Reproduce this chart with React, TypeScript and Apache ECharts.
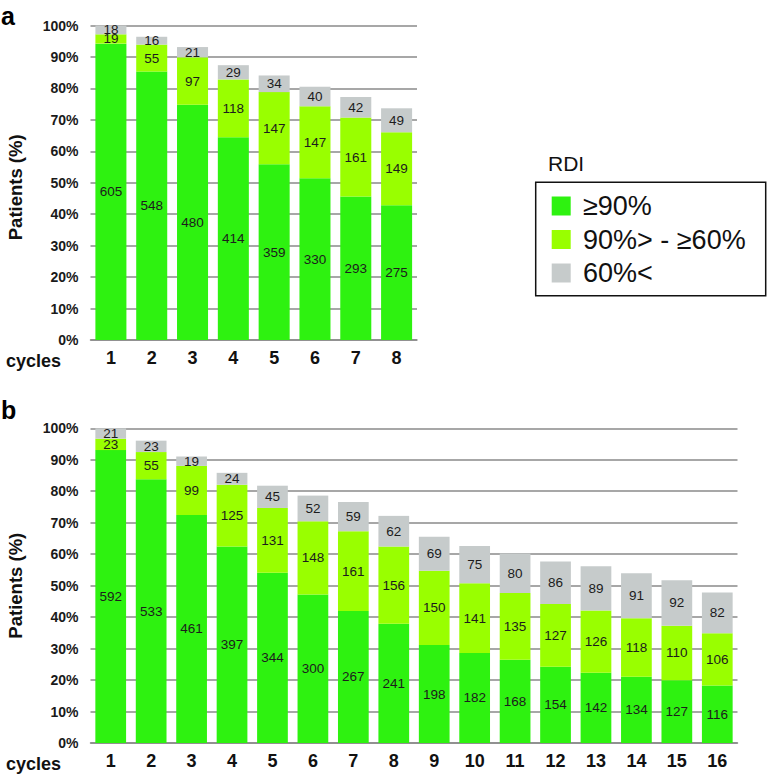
import React, { useEffect, useRef } from "react";
import * as echarts from "echarts";

const cyclesA = ["1", "2", "3", "4", "5", "6", "7", "8"];
const a90 = [605, 548, 480, 414, 359, 330, 293, 275];
const a60 = [19, 55, 97, 118, 147, 147, 161, 149];
const aLow = [18, 16, 21, 29, 34, 40, 42, 49];

const cyclesB = ["1", "2", "3", "4", "5", "6", "7", "8", "9", "10", "11", "12", "13", "14", "15", "16"];
const b90 = [592, 533, 461, 397, 344, 300, 267, 241, 198, 182, 168, 154, 142, 134, 127, 116];
const b60 = [23, 55, 99, 125, 131, 148, 161, 156, 150, 141, 135, 127, 126, 118, 110, 106];
const bLow = [21, 23, 19, 24, 45, 52, 59, 62, 69, 75, 80, 86, 89, 91, 92, 82];

const legendNames = ["≥90%", "90%> - ≥60%", "60%<"];
const colors = ["#2EF210", "#99FF00", "#C6CBCB"];
const panelLetters = ["a", "b"];

const FONT = "'Liberation Sans', Arial, sans-serif";

export default function App() {
  const ref = useRef<HTMLDivElement>(null);
  useEffect(() => {
    if (!ref.current) return;
    const chart = echarts.init(ref.current, undefined, { renderer: "svg" });

    const totalA = a90[0] + a60[0] + aLow[0];
    const totalB = b90[0] + b60[0] + bLow[0];
    const pct = (arr: number[], total: number) =>
      arr.map((v) => ({ value: (v / total) * 100, count: v }));

    const panels = [
      { cats: cyclesA, sets: [a90, a60, aLow], total: totalA },
      { cats: cyclesB, sets: [b90, b60, bLow], total: totalB },
    ];

    const grids = [
      { left: 90.5, top: 25.5, width: 326.5, height: 314.5 },
      { left: 90.5, top: 428.3, width: 647, height: 314.7 },
    ];

    const series: any[] = [];
    panels.forEach((p, gi) => {
      p.sets.forEach((arr, si) => {
        series.push({
          type: "bar",
          name: legendNames[si],
          stack: "s" + gi,
          xAxisIndex: gi,
          yAxisIndex: gi,
          barCategoryGap: "24%",
          data: pct(arr, p.total),
          itemStyle: { color: colors[si] },
          label: {
            show: true,
            position: "inside",
            formatter: (d: any) => String(d.data.count),
            color: "#1c1c1c",
            fontSize: 13.5,
            fontFamily: FONT,
          },
        });
      });
    });

    const xAxis = panels.map((p, gi) => ({
      type: "category",
      gridIndex: gi,
      data: p.cats,
      axisTick: { show: false },
      axisLine: { show: true, lineStyle: { color: "#8a8a8a", width: 1.5 } },
      axisLabel: {
        margin: 9,
        fontSize: 18,
        fontWeight: "bold",
        color: "#111",
        fontFamily: FONT,
      },
    }));

    const yAxis = panels.map((_p, gi) => ({
      type: "value",
      gridIndex: gi,
      min: 0,
      max: 100,
      interval: 10,
      axisLine: { show: false },
      axisTick: { show: false },
      splitLine: { show: true, lineStyle: { color: "#8a8a8a", width: 1.5 } },
      axisLabel: {
        formatter: "{value}%",
        margin: 12,
        fontSize: 14,
        fontWeight: "bold",
        color: "#1a1a1a",
        fontFamily: FONT,
      },
    }));

    const graphic: any[] = [];
    graphic.push({
      type: "text", left: 1, top: 3,
      style: { text: panelLetters[0], font: `bold 25px ${FONT}`, fill: "#000" },
    });
    graphic.push({
      type: "text", left: 1, top: 397,
      style: { text: panelLetters[1], font: `bold 25px ${FONT}`, fill: "#000" },
    });
    const yTitleY = [187.3, 585.7];
    yTitleY.forEach((y) => {
      graphic.push({
        type: "text",
        x: 15.5,
        y,
        rotation: Math.PI / 2,
        style: {
          text: "Patients (%)",
          font: `bold 18.5px ${FONT}`,
          fill: "#111",
          align: "center",
          verticalAlign: "middle",
        },
      });
    });
    const cyclesY = [361, 764];
    cyclesY.forEach((y) => {
      graphic.push({
        type: "text",
        x: 6,
        y,
        style: {
          text: "cycles",
          font: `bold 18px ${FONT}`,
          fill: "#111",
          align: "left",
          verticalAlign: "middle",
        },
      });
    });
    graphic.push({
      type: "text",
      x: 548,
      y: 163,
      style: { text: "RDI", font: `21px ${FONT}`, fill: "#111", verticalAlign: "middle" },
    });
    graphic.push({
      type: "rect",
      shape: { x: 535.7, y: 182.3, width: 230, height: 113.4 },
      style: { fill: "none", stroke: "#111", lineWidth: 1.5 },
    });
    const itemY = [206, 239.5, 273];
    legendNames.forEach((name, i) => {
      graphic.push({
        type: "rect",
        shape: { x: 551.7, y: itemY[i] - 9.5, width: 19, height: 19 },
        style: { fill: colors[i] },
      });
      graphic.push({
        type: "text",
        x: 583,
        y: itemY[i],
        style: { text: name, font: `27px ${FONT}`, fill: "#111", verticalAlign: "middle" },
      });
    });

    chart.setOption({
      animation: false,
      backgroundColor: "#fff",
      grid: grids,
      xAxis,
      yAxis,
      series,
      graphic,
    });
    return () => chart.dispose();
  }, []);

  return (
    <div
      ref={ref}
      style={{ position: "absolute", left: 0, top: 0, width: 767, height: 778 }}
    />
  );
}
